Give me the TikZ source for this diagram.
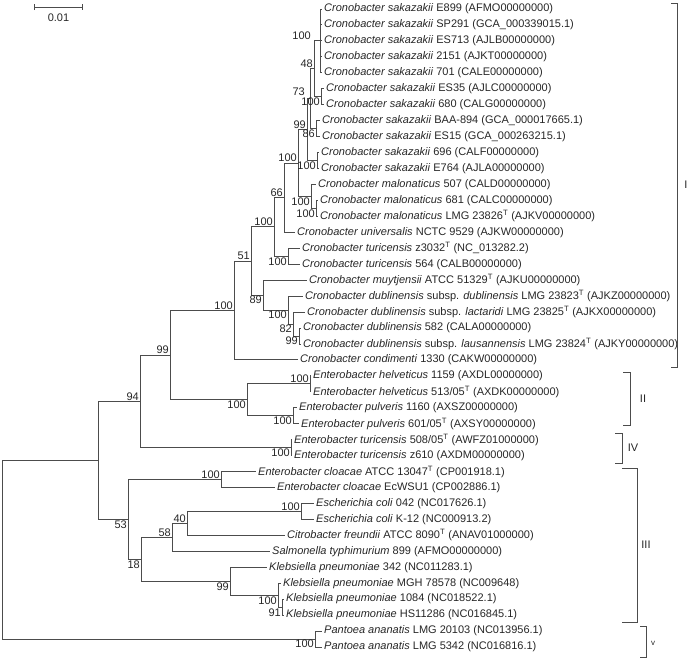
\documentclass[tikz,border=0pt]{standalone}
\usepackage{fontspec}
\setmainfont{Liberation Sans}
\usetikzlibrary{arrows.meta}

\tikzset{
  br/.style={draw=black!70, line width=0.9pt},
  leaf/.style={anchor=west, inner sep=2pt, text=black!85},
  bsa/.style={anchor=south east, inner sep=1pt, text=black!85},
  bsb/.style={anchor=north east, inner sep=1pt, text=black!85},
  clade/.style={draw=black!70, line width=0.8pt},
}

\begin{document}
\begin{tikzpicture}[x=1pt, y=-15.95pt, font=\fontsize{11}{13}\selectfont]
\useasboundingbox (0,-0.564) rectangle (689,40.75);

% scale bar
\coordinate (sbL) at (34,-0.125);
\coordinate (sbR) at (83,-0.125);
\draw[br, {Bar[width=6pt]}-{Bar[width=6pt]}] (sbL) -- (sbR);
\node[text=black!85] (sbt) at (58.5,0.56) {0.01};

% leaves
\node[leaf] (l0) at (322,0) {\textit{Cronobacter sakazakii} E899 (AFMO00000000)};
\node[leaf] (l1) at (322,1) {\textit{Cronobacter sakazakii} SP291 (GCA\_000339015.1)};
\node[leaf] (l2) at (322,2) {\textit{Cronobacter sakazakii} ES713 (AJLB00000000)};
\node[leaf] (l3) at (322,3) {\textit{Cronobacter sakazakii} 2151 (AJKT00000000)};
\node[leaf] (l4) at (322,4) {\textit{Cronobacter sakazakii} 701 (CALE00000000)};
\node[leaf] (l5) at (324,5) {\textit{Cronobacter sakazakii} ES35 (AJLC00000000)};
\node[leaf] (l6) at (324,6) {\textit{Cronobacter sakazakii} 680 (CALG00000000)};
\node[leaf] (l7) at (320,7) {\textit{Cronobacter sakazakii} BAA-894 (GCA\_000017665.1)};
\node[leaf] (l8) at (320,8) {\textit{Cronobacter sakazakii} ES15 (GCA\_000263215.1)};
\node[leaf] (l9) at (319,9) {\textit{Cronobacter sakazakii} 696 (CALF00000000)};
\node[leaf] (l10) at (319,10) {\textit{Cronobacter sakazakii} E764 (AJLA00000000)};
\node[leaf] (l11) at (316,11) {\textit{Cronobacter malonaticus} 507 (CALD00000000)};
\node[leaf] (l12) at (318,12) {\textit{Cronobacter malonaticus} 681 (CALC00000000)};
\node[leaf] (l13) at (318,13) {\textit{Cronobacter malonaticus} LMG 23826\textsuperscript{T} (AJKV00000000)};
\node[leaf] (l14) at (295,14) {\textit{Cronobacter universalis} NCTC 9529 (AJKW00000000)};
\node[leaf] (l15) at (300,15) {\textit{Cronobacter turicensis} z3032\textsuperscript{T} (NC\_013282.2)};
\node[leaf] (l16) at (300,16) {\textit{Cronobacter turicensis} 564 (CALB00000000)};
\node[leaf] (l17) at (307,17) {\textit{Cronobacter muytjensii} ATCC 51329\textsuperscript{T} (AJKU00000000)};
\node[leaf] (l18) at (303,18) {\textit{Cronobacter dublinensis} subsp. \textit{dublinensis} LMG 23823\textsuperscript{T} (AJKZ00000000)};
\node[leaf] (l19) at (305,19) {\textit{Cronobacter dublinensis} subsp. \textit{lactaridi} LMG 23825\textsuperscript{T} (AJKX00000000)};
\node[leaf] (l20) at (301,20) {\textit{Cronobacter dublinensis} 582 (CALA00000000)};
\node[leaf] (l21) at (301,21) {\textit{Cronobacter dublinensis} subsp. \textit{lausannensis} LMG 23824\textsuperscript{T} (AJKY00000000)};
\node[leaf] (l22) at (298,22) {\textit{Cronobacter condimenti} 1330 (CAKW00000000)};
\node[leaf] (l23) at (311,23) {\textit{Enterobacter helveticus} 1159 (AXDL00000000)};
\node[leaf] (l24) at (311,24) {\textit{Enterobacter helveticus} 513/05\textsuperscript{T} (AXDK00000000)};
\node[leaf] (l25) at (297,25) {\textit{Enterobacter pulveris} 1160 (AXSZ00000000)};
\node[leaf] (l26) at (299,26) {\textit{Enterobacter pulveris} 601/05\textsuperscript{T} (AXSY00000000)};
\node[leaf] (l27) at (292,27) {\textit{Enterobacter turicensis} 508/05\textsuperscript{T} (AWFZ01000000)};
\node[leaf] (l28) at (292,28) {\textit{Enterobacter turicensis} z610 (AXDM00000000)};
\node[leaf] (l29) at (256,29) {\textit{Enterobacter cloacae} ATCC 13047\textsuperscript{T} (CP001918.1)};
\node[leaf] (l30) at (275,30) {\textit{Enterobacter cloacae} EcWSU1 (CP002886.1)};
\node[leaf] (l31) at (314,31) {\textit{Escherichia coli} 042 (NC017626.1)};
\node[leaf] (l32) at (314,32) {\textit{Escherichia coli} K-12 (NC000913.2)};
\node[leaf] (l33) at (285,33) {\textit{Citrobacter freundii} ATCC 8090\textsuperscript{T} (ANAV01000000)};
\node[leaf] (l34) at (270,34) {\textit{Salmonella typhimurium} 899 (AFMO00000000)};
\node[leaf] (l35) at (267,35) {\textit{Klebsiella pneumoniae} 342 (NC011283.1)};
\node[leaf] (l36) at (281,36) {\textit{Klebsiella pneumoniae} MGH 78578 (NC009648)};
\node[leaf] (l37) at (284,37) {\textit{Klebsiella pneumoniae} 1084 (NC018522.1)};
\node[leaf] (l38) at (284,38) {\textit{Klebsiella pneumoniae} HS11286 (NC016845.1)};
\node[leaf] (l39) at (322,39) {\textit{Pantoea ananatis} LMG 20103 (NC013956.1)};
\node[leaf] (l40) at (322,40) {\textit{Pantoea ananatis} LMG 5342 (NC016816.1)};

% internal nodes
\coordinate (nR) at (2,33.9);
\coordinate (nA) at (98,28.30);
\coordinate (nB) at (140,24.60);
\coordinate (nD) at (170,21.70);
\coordinate (nF) at (234,18.90);
\coordinate (nG) at (251,15.80);
\coordinate (nH) at (274,13.664);
\coordinate (nI) at (284,11.828);
\coordinate (nJ) at (298,9.656);
\coordinate (n99) at (307,7.5625);
\coordinate (n73) at (310,5.625);
\coordinate (n48) at (314,3.75);
\coordinate (nP) at (320,2);
\coordinate (nS) at (321,5.5);
\coordinate (nT) at (316,7.5);
\coordinate (nU) at (317,9.5);
\coordinate (nK) at (311,11.75);
\coordinate (nK2) at (316,12.5);
\coordinate (nTu) at (288,15.5);
\coordinate (nV) at (263,17.9375);
\coordinate (nW) at (288,18.875);
\coordinate (nX) at (293,19.75);
\coordinate (nY) at (299,20.5);
\coordinate (nE) at (247,24.5);
\coordinate (nHe) at (310,23.5);
\coordinate (nPu) at (293,25.5);
\coordinate (nIV) at (291,27.5);
\coordinate (nC) at (128,32);
\coordinate (nCl) at (221,29.5);
\coordinate (nZ) at (141,34.5);
\coordinate (n58) at (172,33.125);
\coordinate (n40) at (187,32.25);
\coordinate (nCo) at (301,31.5);
\coordinate (nK99) at (230,35.875);
\coordinate (nK100) at (278,36.75);
\coordinate (nK91) at (282,37.5);
\coordinate (nPan) at (315,39.5);

% branches
\foreach \a/\b in {nR/nA, nR/nPan, nA/nB, nA/nC, nB/nD, nB/nIV, nD/nF, nD/nE,
  nF/nG, nF/l22.west, nG/nH, nG/nV, nH/nI, nH/nTu, nI/nJ, nI/l14.west,
  nJ/n99, nJ/nK, n99/n73, n99/nU, n73/n48, n73/nT, n48/nP, n48/nS,
  nP/l0.west, nP/l1.west, nP/l2.west, nP/l3.west, nP/l4.west,
  nS/l5.west, nS/l6.west, nT/l7.west, nT/l8.west, nU/l9.west, nU/l10.west,
  nK/l11.west, nK/nK2, nK2/l12.west, nK2/l13.west, nTu/l15.west, nTu/l16.west,
  nV/l17.west, nV/nW, nW/l18.west, nW/nX, nX/l19.west, nX/nY, nY/l20.west, nY/l21.west,
  nE/nHe, nE/nPu, nHe/l23.west, nHe/l24.west, nPu/l25.west, nPu/l26.west,
  nIV/l27.west, nIV/l28.west, nC/nCl, nC/nZ, nCl/l29.west, nCl/l30.west,
  nZ/n58, nZ/nK99, n58/n40, n58/l34.west, n40/nCo, n40/l33.west, nCo/l31.west, nCo/l32.west,
  nK99/l35.west, nK99/nK100, nK100/l36.west, nK100/nK91, nK91/l37.west, nK91/l38.west,
  nPan/l39.west, nPan/l40.west}
  \draw[br] (\a) |- (\b);

% bootstrap values
\node[bsa] (bB) at (nB) {94};
\node[bsa] (bD) at (nD) {99};
\node[bsa] (bF) at (nF) {100};
\node[bsa] (bG) at (nG) {51};
\node[bsa] (bH) at (nH) {100};
\node[bsa] (bI) at (nI) {66};
\node[bsa] (bJ) at (nJ) {100};
\node[bsa] (b99) at (n99) {99};
\node[bsa, xshift=-4pt, yshift=2pt] (b73) at (n73) {73};
\node[bsa] (b48) at (n48) {48};
\node[bsa, xshift=-8pt] (bP) at (nP) {100};
\node[bsa] (bHe) at (nHe) {100};
\node[bsa] (bCl) at (nCl) {100};
\node[bsa] (b40) at (n40) {40};
\node[bsa] (b58) at (n58) {58};
\node[bsa] (bCo) at (nCo) {100};
\node[bsb] (bC) at (nC) {53};
\node[bsb] (bS) at (nS) {100};
\node[bsb] (bT) at (nT) {86};
\node[bsb] (bU) at (nU) {100};
\node[bsb] (bK) at (nK) {100};
\node[bsb] (bK2) at (nK2) {100};
\node[bsb] (bTu) at (nTu) {100};
\node[bsb] (bV) at (nV) {89};
\node[bsb] (bW) at (nW) {100};
\node[bsb] (bX) at (nX) {82};
\node[bsb] (bY) at (nY) {99};
\node[bsb] (bE) at (nE) {100};
\node[bsb] (bPu) at (nPu) {100};
\node[bsb] (bIV) at (nIV) {100};
\node[bsb] (bZ) at (nZ) {18};
\node[bsb] (bK99) at (nK99) {99};
\node[bsb] (bK100) at (nK100) {100};
\node[bsb] (bK91) at (nK91) {91};
\node[bsb] (bPan) at (nPan) {100};

% clade brackets
\draw[clade] (671,-0.38) -- (677,-0.38) -- (677,22.45) -- (671,22.45);
\node[text=black!85] (cI) at (686,11.04) {I};
\draw[clade] (623,22.76) -- (630,22.76) -- (630,26.08) -- (623,26.08);
\node[text=black!85] (cII) at (643,24.42) {II};
\draw[clade] (615,26.58) -- (622,26.58) -- (622,28.46) -- (615,28.46);
\node[text=black!85] (cIV) at (633,27.52) {IV};
\draw[clade] (622,28.78) -- (637,28.78) -- (637,38.43) -- (622,38.43);
\node[text=black!85] (cIII) at (646,33.6) {III};
\draw[clade] (640,38.68) -- (646,38.68) -- (646,40.63) -- (640,40.63);
\node[text=black!85, font=\fontsize{8}{9}\selectfont] (cV) at (653,39.75) {v};
\end{tikzpicture}
\end{document}
